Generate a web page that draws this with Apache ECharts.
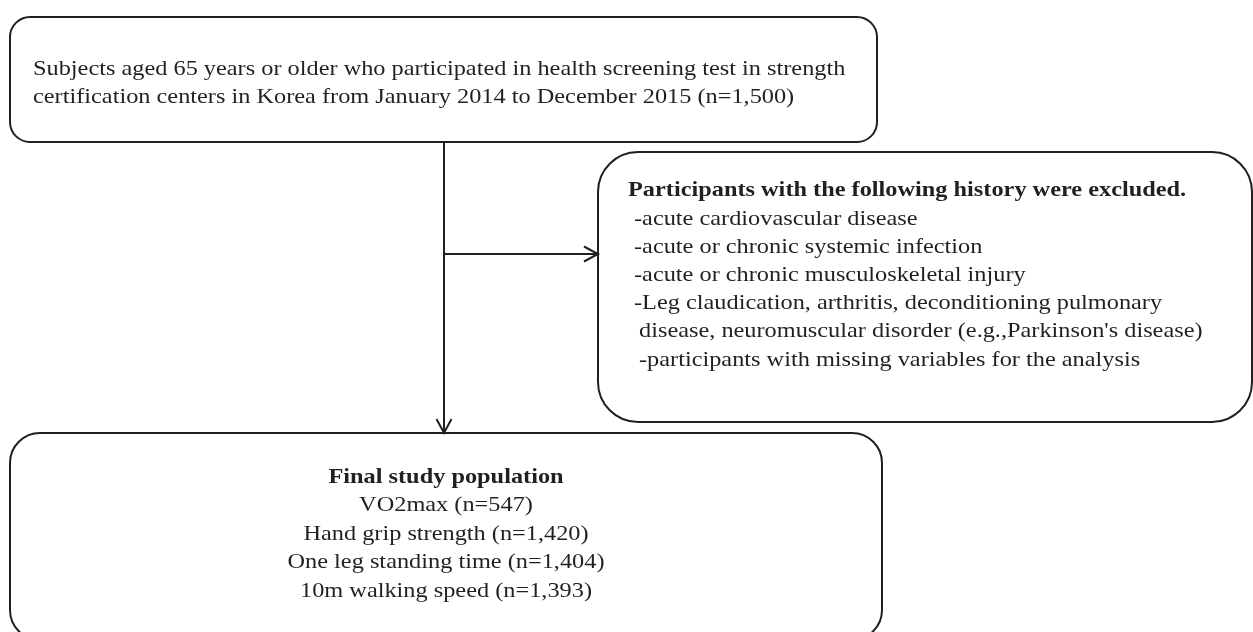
<!DOCTYPE html>
<html>
<head>
<meta charset="utf-8">
<script src="https://cdn.jsdelivr.net/npm/echarts/dist/echarts.min.js"></script>
<style>
  html, body { margin: 0; padding: 0; background: #ffffff; }
  #chart { width: 1253px; height: 632px; }
</style>
</head>
<body>
<div id="chart"></div>
<script>
// ---------- content (text) ----------
const screeningLines = [
  "Subjects aged 65 years or older who participated in health screening test in strength",
  "certification centers in Korea from January 2014 to December 2015 (n=1,500)"
];
const exclusionTitle = "Participants with the following history were excluded.";
const exclusionItems = [
  "-acute cardiovascular disease",
  "-acute or chronic systemic infection",
  "-acute or chronic musculoskeletal injury",
  "-Leg claudication, arthritis, deconditioning pulmonary",
  "disease, neuromuscular disorder (e.g.,Parkinson's disease)",
  "-participants with missing variables for the analysis"
];
const finalTitle = "Final study population";
const finalItems = [
  "VO2max (n=547)",
  "Hand grip strength (n=1,420)",
  "One leg standing time (n=1,404)",
  "10m walking speed (n=1,393)"
];

// ---------- layout (diagram coordinates, in the hidden axes' units) ----------
const boxLayout = [
  [10, 17, 877, 142, 20],
  [598, 152, 1252, 422, 40],
  [10, 433, 882, 640, 30]
];
const connectorLayout = [
  [[444, 142], [444, 433]],
  [[444, 254], [598, 254]]
];
const screeningPos = { x: 33, baselines: [76, 104] };
const exclusionPos = { titleX: 628, itemX: [634, 634, 634, 634, 639, 639], baselines: [197, 226, 254, 282, 310, 338, 367] };
const finalPos = { cx: 446, baselines: [484, 512, 541, 569, 598] };

const INK = '#231f20';
const FONT_FAMILY = '"Liberation Serif", "Times New Roman", serif';
const FONT_SIZE = 21;
const TEXT_STRETCH = 1.158;

// build text items
const textItems = [];
screeningLines.forEach((t, i) => textItems.push({ value: [screeningPos.x, screeningPos.baselines[i]], text: t, bold: false, align: 'left' }));
textItems.push({ value: [exclusionPos.titleX, exclusionPos.baselines[0]], text: exclusionTitle, bold: true, align: 'left' });
exclusionItems.forEach((t, i) => textItems.push({ value: [exclusionPos.itemX[i], exclusionPos.baselines[i + 1]], text: t, bold: false, align: 'left' }));
textItems.push({ value: [finalPos.cx, finalPos.baselines[0]], text: finalTitle, bold: true, align: 'center' });
finalItems.forEach((t, i) => textItems.push({ value: [finalPos.cx, finalPos.baselines[i + 1]], text: t, bold: false, align: 'center' }));

const chart = echarts.init(document.getElementById('chart'), null, { renderer: 'canvas' });

chart.setOption({
  animation: false,
  backgroundColor: '#ffffff',
  grid: { left: 0, right: 0, top: 0, bottom: 0 },
  xAxis: { type: 'value', min: 0, max: 1253, show: false },
  yAxis: { type: 'value', min: 0, max: 632, inverse: true, show: false },
  series: [
    {
      type: 'custom',
      name: 'boxes',
      clip: false,
      silent: true,
      data: boxLayout,
      renderItem: function (params, api) {
        const p0 = api.coord([api.value(0), api.value(1)]);
        const p1 = api.coord([api.value(2), api.value(3)]);
        const rx = api.size([api.value(4), 0])[0];
        return {
          type: 'rect',
          shape: { x: p0[0], y: p0[1], width: p1[0] - p0[0], height: p1[1] - p0[1], r: rx },
          style: { fill: 'none', stroke: INK, lineWidth: 2 }
        };
      }
    },
    {
      type: 'custom',
      name: 'connectors',
      clip: false,
      silent: true,
      data: connectorLayout.map(c => [c[0][0], c[0][1], c[1][0], c[1][1]]),
      renderItem: function (params, api) {
        const a = api.coord([api.value(0), api.value(1)]);
        const b = api.coord([api.value(2), api.value(3)]);
        const dx = b[0] - a[0], dy = b[1] - a[1];
        const len = Math.sqrt(dx * dx + dy * dy);
        const ux = dx / len, uy = dy / len;
        const headLen = 14, headHalf = 7.5;
        const bx = b[0] - ux * headLen, by = b[1] - uy * headLen;
        const nx = -uy, ny = ux;
        return {
          type: 'group',
          children: [
            { type: 'line', shape: { x1: a[0], y1: a[1], x2: b[0], y2: b[1] }, style: { stroke: INK, lineWidth: 2 } },
            { type: 'polyline', shape: { points: [[bx + nx * headHalf, by + ny * headHalf], [b[0], b[1]], [bx - nx * headHalf, by - ny * headHalf]] }, style: { fill: 'none', stroke: INK, lineWidth: 2 } }
          ]
        };
      }
    },
    {
      type: 'custom',
      name: 'texts',
      clip: false,
      silent: true,
      data: textItems.map(t => t.value),
      renderItem: function (params, api) {
        const it = textItems[params.dataIndex];
        const p = api.coord([api.value(0), api.value(1)]);
        return {
          type: 'text',
          x: p[0],
          y: p[1] - FONT_SIZE * 0.305,
          scaleX: TEXT_STRETCH,
          style: {
            text: it.text,
            fill: INK,
            fontFamily: FONT_FAMILY,
            fontSize: FONT_SIZE,
            fontWeight: it.bold ? 'bold' : 'normal',
            align: it.align,
            verticalAlign: 'middle'
          }
        };
      }
    }
  ]
});
</script>
</body>
</html>
